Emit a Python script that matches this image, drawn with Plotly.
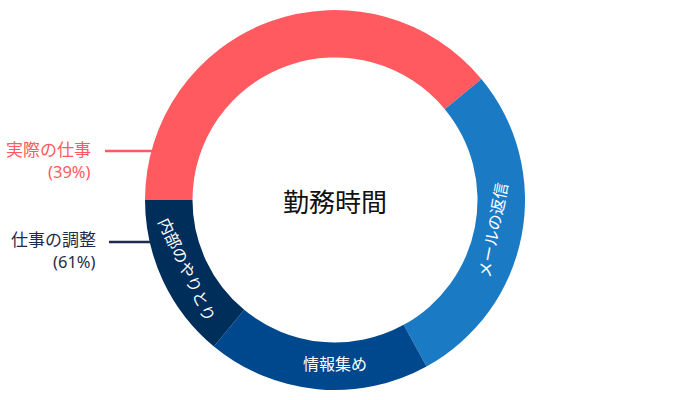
import plotly.graph_objects as go

W, H = 689, 400

# data
labels = ['実際の仕事', 'メールの返信', '情報集め', '内部のやりとり']
values = [39, 28, 19, 14]
inner_text = ['', 'メールの返信', '情報集め', '内部のやりとり']
colors = ['#FF5A5F', '#1B7AC4', '#00488D', '#002E5B']

group_names = ['実際の仕事', '仕事の調整']
group_pcts = ['(39%)', '(61%)']
group_colors = ['#FF5A5F', '#1F2B4A']

jp_font = 'Noto Sans CJK JP'


def px(x):
    return x / W


def py(y):
    return 1 - y / H


fig = go.Figure()
fig.add_trace(go.Pie(
    labels=labels,
    values=values,
    text=inner_text,
    textinfo='text',
    textposition='inside',
    insidetextorientation='tangential',
    insidetextfont=dict(family=jp_font, size=16, color='white'),
    marker=dict(colors=colors, line=dict(width=0)),
    hole=0.75,
    sort=False,
    direction='clockwise',
    rotation=-90,
    showlegend=False,
    hoverinfo='label+percent',
    domain=dict(x=[px(335 - 190), px(335 + 190)], y=[py(390), py(10)]),
))

annotations = [
    dict(x=px(335), y=py(200), text='勤務時間', showarrow=False,
         font=dict(family=jp_font, size=26, color='#111111'),
         xref='paper', yref='paper', xanchor='center', yanchor='middle'),
]
shapes = []

# outer labels with leader lines
label_y = [148, 238]
label_right = [93, 98]
line_x = [(105, 152), (109, 150)]
line_y = [151, 242]
for i in range(2):
    annotations.append(dict(
        x=px(label_right[i]), y=py(label_y[i]), text=group_names[i], showarrow=False,
        font=dict(family=jp_font, size=17, color=group_colors[i]),
        xref='paper', yref='paper', xanchor='right', yanchor='middle'))
    annotations.append(dict(
        x=px(label_right[i]), y=py(label_y[i] + 23), text=group_pcts[i], showarrow=False,
        font=dict(family='Noto Sans', size=16.5, color=group_colors[i]),
        xref='paper', yref='paper', xanchor='right', yanchor='middle'))
    shapes.append(dict(
        type='line', xref='paper', yref='paper',
        x0=px(line_x[i][0]), x1=px(line_x[i][1]),
        y0=py(line_y[i]), y1=py(line_y[i]),
        line=dict(color=group_colors[i], width=2.5)))

fig.update_layout(
    width=W, height=H,
    margin=dict(l=0, r=0, t=0, b=0),
    paper_bgcolor='white',
    plot_bgcolor='white',
    annotations=annotations,
    shapes=shapes,
)

fig.write_html('out.html', config={'displayModeBar': False},
               post_script="document.body.style.margin='0';")
